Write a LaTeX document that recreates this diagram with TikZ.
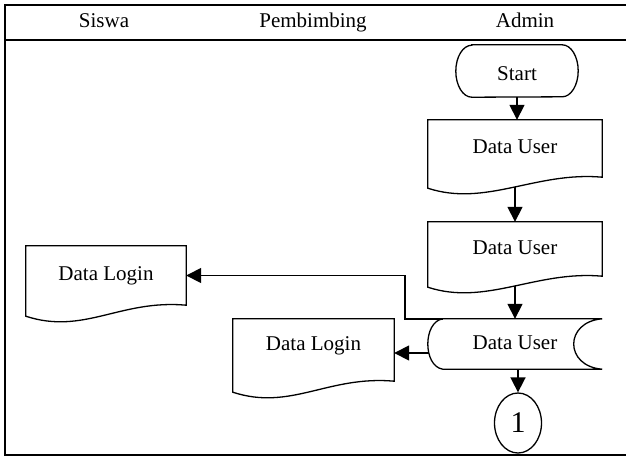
\documentclass[tikz,border=0pt]{standalone}
\usepackage{fontspec}
\setmainfont{Liberation Serif}
\usetikzlibrary{arrows.meta,calc,shapes.geometric}
\newcommand\docoutline[1]{\draw[shp] (#1.north west) -- (#1.north east) -- (#1.south east) .. controls +(-66,-6) and +(58,19) .. ([yshift=-11pt]#1.south west) -- cycle;}
\begin{document}
\begin{tikzpicture}[x=1pt,y=-1pt,
  every node/.style={font=\fontsize{21}{24}\selectfont},
  frame/.style={line width=2.2pt},
  shp/.style={line width=1.3pt},
  arr/.style={line width=1.6pt,-{Triangle[length=15pt,width=15pt]}},
  hdr/.style={inner sep=0pt,text height=14pt,text depth=4pt},
  box/.style={draw=none,rectangle,inner sep=0pt,text height=14pt,text depth=4pt}]
\useasboundingbox (0,0) rectangle (626,459);
% table frame
\draw[frame] (626,5) -- (5,5) -- (5,455) -- (626,455);
\draw[frame] (5,40) -- (626,40);
\node[hdr] (hsiswa) at (104,22) {Siswa};
\node[hdr] (hpemb) at (313,22) {Pembimbing};
\node[hdr] (hadmin) at (525,22) {Admin};
% start
\node[box,minimum width=122pt,minimum height=52pt,text height=22pt] (start) at (517,71) {Start};
\draw[shp] ([xshift=16pt]start.north west) -- ([xshift=-16pt]start.north east)
  arc[start angle=90,end angle=-90,x radius=16pt,y radius=26pt]
  -- ([xshift=16pt]start.south west)
  arc[start angle=270,end angle=90,x radius=16pt,y radius=26pt] -- cycle;
% documents
\node[box,minimum width=174pt,minimum height=57pt] (du1) at (515,148.5) {Data User};
\docoutline{du1}
\node[box,minimum width=174pt,minimum height=54pt] (du2) at (515,249) {Data User};
\docoutline{du2}
\node[box,minimum width=160pt,minimum height=59pt] (dl1) at (106,275.5) {Data Login};
\docoutline{dl1}
\node[box,minimum width=161pt,minimum height=62pt,text depth=14pt] (dl2) at (313.5,350) {Data Login};
\docoutline{dl2}
% stored data
\node[box,minimum width=174pt,minimum height=50pt] (store) at (515,344) {Data User};
\draw[shp] ([xshift=15pt]store.north west) -- (store.north east)
  .. controls +(-38,3) and +(-38,-3) .. (store.south east)
  -- ([xshift=15pt]store.south west)
  .. controls +(-20,-3) and +(-20,3) .. ([xshift=15pt]store.north west) -- cycle;
% connector
\node[draw,shp,ellipse,minimum width=47pt,minimum height=60pt,inner sep=0pt,font=\fontsize{30}{30}\selectfont] (one) at (518,423) {1};
% arrows
\draw[arr] (start.south) -- (start.south |- du1.north);
\draw[arr] ([yshift=-10pt]du1.south) -- (du1.south |- du2.north);
\draw[arr] ([yshift=-10pt]du2.south) -- (du2.south |- store.north);
\draw[arr] (one.north |- store.south) -- (one.north);
\coordinate (sl) at ($(store.west)+(1,9)$);
\draw[arr] (sl) -- (sl -| dl2.east);
\draw[arr] ([xshift=15pt]store.north west) -- ++(-38,0) |- (dl1.east);
\end{tikzpicture}
\end{document}
